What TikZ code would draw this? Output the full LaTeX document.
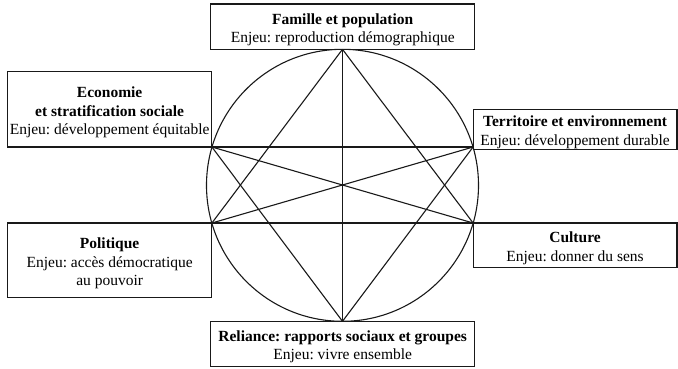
\documentclass[tikz,border=0pt]{standalone}
\usepackage{fontspec}
\setmainfont{Liberation Serif}
\frenchspacing
\newcommand{\boxtop}{\rule{0pt}{17.5pt}}
\newcommand{\boxbot}{\rule[-4pt]{0pt}{4pt}}
\begin{document}
\begin{tikzpicture}[x=1pt,y=-1pt,
  lw/.style={line width=1.1pt, draw=black!90},
  box/.style={lw, inner sep=0pt, outer sep=0pt, align=center, font=\fontsize{15.5}{18.4}\selectfont},
  chord/.style={lw}]
\useasboundingbox (0,0) rectangle (678,368);
% circle
\node[lw, circle, inner sep=0pt, outer sep=0pt, minimum size=272pt] (C) at (342.5,185.3) {};
\coordinate (T) at (342.5,49.3);
\coordinate (B) at (342.5,321.3);
\coordinate (UL) at (211.9,147);
\coordinate (UR) at (473.1,147);
\coordinate (LL) at (211.9,223);
\coordinate (LR) at (473.1,223);
% boxes
\node[box, minimum width=264.2pt, minimum height=45.3pt] (fam) at (342.7,26.65)
  {\boxtop\textbf{Famille et population}\\Enjeu: reproduction démographique\boxbot};
\node[box, minimum width=204.5pt, minimum height=75.3pt] (eco) at (109.65,109.35)
  {\boxtop\textbf{Economie}\\\textbf{et stratification sociale}\\Enjeu: développement équitable\boxbot};
\node[box, minimum width=203.9pt, minimum height=35.3pt] (ter) at (575.05,129.35)
  {\boxtop\textbf{Territoire et environnement}\\Enjeu: développement durable\boxbot};
\node[box, minimum width=204.5pt, minimum height=74.7pt] (pol) at (109.65,260.35)
  {\boxtop\textbf{Politique}\\Enjeu: accès démocratique\\au pouvoir\boxbot};
\node[box, minimum width=203.9pt, minimum height=44.7pt] (cul) at (575.05,245.35)
  {\boxtop\textbf{Culture}\\Enjeu: donner du sens\boxbot};
\node[box, minimum width=264.2pt, minimum height=45.4pt] (rel) at (342.7,344)
  {\boxtop\textbf{Reliance: rapports sociaux et groupes}\\Enjeu: vivre ensemble\boxbot};
% chords
\draw[chord] (T) -- (B);
\draw[chord] (T) -- (LL);
\draw[chord] (T) -- (LR);
\draw[chord] (B) -- (UL);
\draw[chord] (B) -- (UR);
\draw[chord] (UL) -- (UR);
\draw[chord] (LL) -- (LR);
\draw[chord] (UL) -- (LR);
\draw[chord] (UR) -- (LL);
\end{tikzpicture}
\end{document}
